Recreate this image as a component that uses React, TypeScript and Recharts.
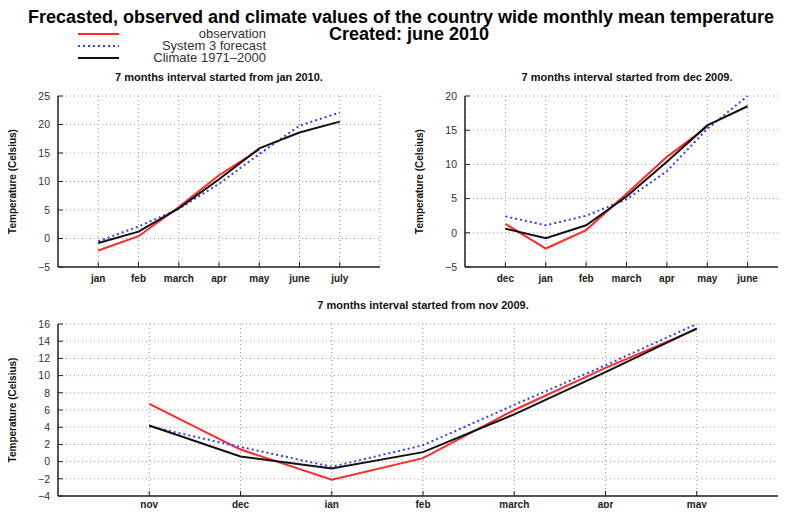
import React from 'react';
import { LineChart, Line, XAxis, YAxis, CartesianGrid } from 'recharts';

// panel 1: 7 months from jan 2010
const janMonths = ['jan', 'feb', 'march', 'apr', 'may', 'june', 'july'];
const janObservation = [-2.1, 0.4, 5.5, 11.1, 15.6, null, null];
const janForecast = [-0.5, 2.1, 5.2, 9.6, 14.8, 19.8, 22.1];
const janClimate = [-0.8, 1.2, 5.3, 10.4, 15.8, 18.6, 20.5];
const janYTicks = [-5, 0, 5, 10, 15, 20, 25];

// panel 2: 7 months from dec 2009
const decMonths = ['dec', 'jan', 'feb', 'march', 'apr', 'may', 'june'];
const decObservation = [1.3, -2.3, 0.4, 5.7, 11.1, 15.5, null];
const decForecast = [2.4, 1.1, 2.5, 4.9, 9.0, 15.2, 20.0];
const decClimate = [0.6, -0.8, 1.1, 5.3, 10.4, 15.7, 18.5];
const decYTicks = [-5, 0, 5, 10, 15, 20];

// panel 3: 7 months from nov 2009
const novMonths = ['nov', 'dec', 'jan', 'feb', 'march', 'apr', 'may'];
const novObservation = [6.7, 1.4, -2.1, 0.4, 6.0, 10.9, 15.4];
const novForecast = [4.1, 1.7, -0.6, 1.9, 6.6, 11.2, 16.0];
const novClimate = [4.2, 0.6, -0.8, 1.1, 5.5, 10.4, 15.5];
const novYTicks = [-4, -2, 0, 2, 4, 6, 8, 10, 12, 14, 16];

const legendItems = [
  { name: 'observation', color: '#ff2a2a', dash: undefined },
  { name: 'System 3 forecast', color: '#3a3aff', dash: '2 3' },
  { name: 'Climate 1971\u20132000', color: '#111', dash: undefined },
];

const FONT = '"Liberation Sans", Arial, sans-serif';
const xTicks = [1, 2, 3, 4, 5, 6, 7];

interface PanelProps {
  months: string[];
  observation: (number | null)[];
  forecast: number[];
  climate: number[];
  yTicks: number[];
  width: number;
  height: number;
  margin: { top: number; right: number; bottom: number; left: number };
  yAxisWidth: number;
  xAxisHeight: number;
  labelOffset: number;
  tickGap: number;
}

const Panel: React.FC<PanelProps> = ({
  months, observation, forecast, climate, yTicks, width, height, margin, yAxisWidth, xAxisHeight, labelOffset, tickGap,
}) => {
  const data = months.map((m, i) => ({
    x: i + 1,
    observation: observation[i],
    forecast: forecast[i],
    climate: climate[i],
  }));
  const domain: [number, number] = [yTicks[0], yTicks[yTicks.length - 1]];
  const frame = { stroke: '#222', strokeWidth: 1.5 };
  const fmtY = (v: number) => (v < 0 ? '\u2212' + Math.abs(v) : String(v));

  return (
    <LineChart width={width} height={height} data={data} margin={margin}>
      <CartesianGrid stroke="#999" strokeDasharray="1 3" />
      <XAxis
        dataKey="x"
        type="number"
        domain={[0, 8]}
        ticks={xTicks}
        interval={0}
        tickFormatter={(v: number) => months[v - 1] ?? ''}
        height={xAxisHeight}
        tickSize={-5}
        tickMargin={tickGap}
        axisLine={frame}
        tickLine={{ stroke: '#222' }}
        tick={{ fontSize: 10, fontWeight: 'bold', fill: '#222', fontFamily: FONT }}
      />
      <XAxis
        xAxisId="top"
        orientation="top"
        dataKey="x"
        type="number"
        domain={[0, 8]}
        ticks={xTicks}
        height={0}
        tickSize={-5}
        tick={false}
        axisLine={frame}
        tickLine={{ stroke: '#222' }}
      />
      <YAxis
        type="number"
        domain={domain}
        ticks={yTicks}
        interval={0}
        width={yAxisWidth}
        tickSize={-5}
        tickMargin={13}
        tickFormatter={fmtY}
        axisLine={frame}
        tickLine={{ stroke: '#222' }}
        tick={{ fontSize: 10.5, fill: '#333', fontFamily: FONT }}
        label={{
          value: 'Temperature (Celsius)',
          angle: -90,
          position: 'insideLeft',
          offset: labelOffset,
          style: { textAnchor: 'middle', fontSize: 10, fontWeight: 'bold', fill: '#111', fontFamily: FONT },
        }}
      />
      <YAxis
        yAxisId="right"
        orientation="right"
        type="number"
        domain={domain}
        ticks={yTicks}
        width={0}
        tickSize={-5}
        tick={false}
        axisLine={frame}
        tickLine={{ stroke: '#222' }}
      />
      <Line type="linear" dataKey="observation" stroke="#ff2a2a" strokeWidth={2} dot={false} isAnimationActive={false} />
      <Line type="linear" dataKey="forecast" stroke="#3a3aff" strokeWidth={2} strokeDasharray="2 3" dot={false} isAnimationActive={false} />
      <Line type="linear" dataKey="climate" xAxisId="top" yAxisId="right" stroke="#111" strokeWidth={2} dot={false} isAnimationActive={false} />
    </LineChart>
  );
};

const subTitle: React.CSSProperties = {
  position: 'absolute',
  fontFamily: FONT,
  fontWeight: 'bold',
  fontSize: 11,
  lineHeight: '12px',
  color: '#111',
  transform: 'translate(-50%, -50%)',
  whiteSpace: 'nowrap',
};

const mainTitle: React.CSSProperties = {
  position: 'absolute',
  transform: 'translate(-50%, -50%)',
  fontSize: 18,
  lineHeight: '16px',
  fontWeight: 'bold',
  whiteSpace: 'nowrap',
  color: '#000',
};

export default function App() {
  return (
    <div style={{ position: 'relative', width: 786, height: 516, overflow: 'hidden', margin: -8, background: '#fff', fontFamily: FONT }}>
      <div style={{ ...mainTitle, left: 401, top: 17 }}>
        Frecasted, observed and climate values of the country wide monthly mean temperature
      </div>
      <div style={{ ...mainTitle, left: 409, top: 34 }}>Created: june 2010</div>

      {legendItems.map((item, i) => (
        <div key={item.name} style={{ position: 'absolute', left: 77, top: 33.5 + i * 12 - 6, width: 189, height: 12 }}>
          <svg width={44} height={12} style={{ position: 'absolute', left: 0, top: 0 }}>
            <line x1={1} y1={6} x2={42} y2={6} stroke={item.color} strokeWidth={2} strokeDasharray={item.dash} />
          </svg>
          <div style={{ position: 'absolute', right: 0, top: 0, lineHeight: '12px', fontSize: 13, color: '#333', whiteSpace: 'nowrap' }}>
            {item.name}
          </div>
        </div>
      ))}

      <div style={{ ...subTitle, left: 219, top: 77 }}>7 months interval started from jan 2010.</div>
      <div style={{ ...subTitle, left: 627, top: 77 }}>7 months interval started from dec 2009.</div>
      <div style={{ ...subTitle, left: 423, top: 305 }}>7 months interval started from nov 2009.</div>

      <div style={{ position: 'absolute', left: 0, top: 60 }}>
        <Panel
          months={janMonths} observation={janObservation} forecast={janForecast} climate={janClimate} yTicks={janYTicks}
          width={400} height={240} margin={{ top: 36, right: 20, bottom: 3, left: 0 }}
          yAxisWidth={58} xAxisHeight={30} labelOffset={12} tickGap={13}
        />
      </div>
      <div style={{ position: 'absolute', left: 400, top: 60 }}>
        <Panel
          months={decMonths} observation={decObservation} forecast={decForecast} climate={decClimate} yTicks={decYTicks}
          width={400} height={240} margin={{ top: 36, right: 12, bottom: 3, left: 0 }}
          yAxisWidth={65} xAxisHeight={30} labelOffset={19} tickGap={13}
        />
      </div>
      <div style={{ position: 'absolute', left: 0, top: 295 }}>
        <Panel
          months={novMonths} observation={novObservation} forecast={novForecast} climate={novClimate} yTicks={novYTicks}
          width={800} height={221} margin={{ top: 29, right: 12, bottom: 0, left: 0 }}
          yAxisWidth={58} xAxisHeight={20} labelOffset={12} tickGap={10}
        />
      </div>
    </div>
  );
}
